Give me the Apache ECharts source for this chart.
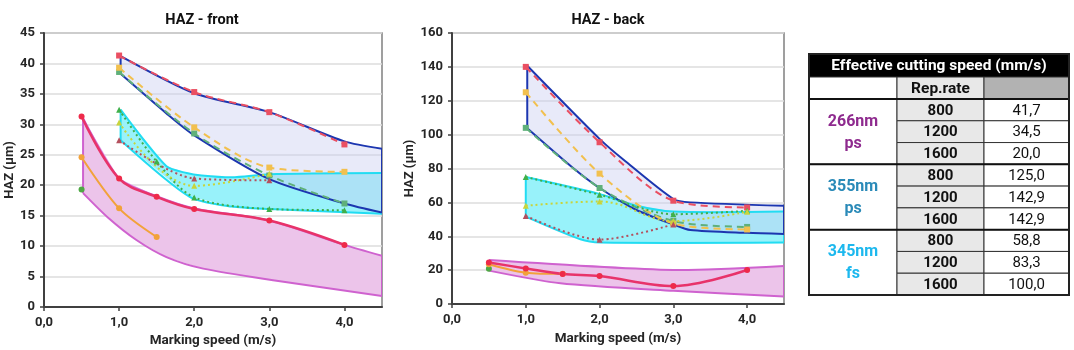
<!DOCTYPE html>
<html><head><meta charset="utf-8">
<script src="https://cdn.jsdelivr.net/npm/echarts@6/dist/echarts.min.js"></script>
<style>html,body{margin:0;padding:0;background:#fff}#c{width:1074px;height:350px}</style>
</head><body><div id="c"></div>
<script>
// ---------- HAZ - front ----------
const frontRedCircles = [[0.5,31.3],[1,21.1],[1.5,18.1],[2,16.1],[3,14.2],[4,10.2]];
const frontOrangeCircles = [[0.5,24.6],[1,16.2],[1.5,11.5]];
const frontGreenCircles = [[0.5,19.3]];
const frontRedSquares = [[1,41.3],[2,35.3],[3,32.0],[4,26.7]];
const frontOrangeSquares = [[1,39.3],[2,29.5],[3,22.9],[4,22.2]];
const frontGreenSquares = [[1,38.6],[2,28.5],[3,21.6],[4,17.0]];
const frontGreenTriangles = [[1,32.4],[1.5,23.9],[2,18.0],[3,16.1],[4,15.9]];
const frontYellowTriangles = [[1,30.3],[2,19.9],[3,21.9]];
const frontBrownTriangles = [[1,27.4],[2,21.1],[3,20.8]];
const frontMagentaUpper = [[0.52,31.0],[1,21.1],[1.5,18.2],[2,16.2],[3,14.2],[4,10.2],[4.5,8.4]];
const frontMagentaLower = [[0.52,18.7],[0.85,14.7],[1.23,11.0],[1.63,8.2],[2.12,6.3],[3.05,4.4],[4.5,1.8]];
const frontBlueUpper = [[1.02,41.2],[2,35.1],[3,32.0],[4,27.2],[4.5,26.0]];
const frontBlueLower = [[1.02,38.3],[1.63,31.8],[2,28.2],[3,21.0],[4,17.0],[4.5,15.5]];
const frontCyanUpper = [[1.02,32.4],[1.63,23.1],[1.9,22.0],[2.1,21.6],[2.5,21.3],[3,21.8],[4.5,22.0]];
const frontCyanLower = [[1.02,27.4],[1.94,18.1],[2.5,16.5],[3,16.1],[4.5,15.3]];

// ---------- HAZ - back ----------
const backRedCircles = [[0.5,24.5],[1,21.0],[1.5,17.7],[2,16.5],[3,10.6],[4,20.1]];
const backOrangeCircles = [[0.5,23.5],[1,18.5],[1.5,17.8]];
const backGreenCircles = [[0.5,20.8]];
const backRedSquares = [[1,140],[2,95.5],[3,61],[4,57]];
const backOrangeSquares = [[1,125],[2,77],[3,47.5],[4,44]];
const backGreenSquares = [[1,104],[2,68.5],[3,49],[4,45.5]];
const backGreenTriangles = [[1,75],[2,64.5],[3,53],[4,55]];
const backYellowTriangles = [[1,58],[2,60.5],[3,49],[4,54.5]];
const backBrownTriangles = [[1,52],[2,38],[3,47]];
const backMagentaUpper = [[0.5,26],[3,20.1],[4.5,22.5]];
const backMagentaLower = [[0.5,19.7],[1.47,12.2],[3,7.8],[4.5,4.5]];
const backBlueUpper = [[1.02,140.7],[2,97.5],[2.33,85],[3,62],[3.23,60],[4.5,58]];
const backBlueLower = [[1.02,103.8],[1.65,80],[2,68.5],[2.5,55.5],[3,47],[3.23,43.7],[4,42],[4.5,41.4]];
const backCyanUpper = [[1.0,75],[1.74,67.8],[2,65],[2.46,58.5],[3,54.6],[4.5,54.6]];
const backCyanLower = [[1.0,51.6],[1.74,38.2],[2.01,36.3],[4.5,36.3]];

// ---------- table ----------
const tableTitle = 'Effective cutting speed (mm/s)';
const tableSubHeader = 'Rep.rate';
const laserGroups = ['266nm\nps', '355nm\nps', '345nm\nfs'];
const repRates = ['800', '1200', '1600'];
const cuttingSpeeds = ['41,7','34,5','20,0','125,0','142,9','142,9','58,8','83,3','100,0'];

const chartTitles = ['HAZ - front', 'HAZ - back'];
const xName = 'Marking speed (m/s)';
const yName = 'HAZ (µm)';

// ---------- styling ----------
const FONT = 'Roboto';
const C = {
  red: '#ee2a4a', orange: '#f2a23a', green: '#4ea844',
  redSq: '#ea4f62', orangeSq: '#f2c04e', greenSq: '#5fb07a',
  greenTri: '#3fb04a', yellowTri: '#c8d43c', brownTri: '#b4505e',
  magFill: '#ecc4ea', magLine: '#cf62cf',
  blueFill: 'rgba(200,206,240,0.42)', blueLine: '#1c36b0',
  cyanFill: '#98f2fa', cyanLine: '#22dcf2'
};
const groupColors = ['#8e2a8e', '#2a8ab8', '#1cb8ee'];

function lineS(idx, data, color, symbol, size, type, width, smooth, lineColor) {
  return {
    type: 'line', xAxisIndex: idx, yAxisIndex: idx, data: data, z: 5,
    symbol: symbol, symbolSize: size, smooth: smooth, silent: true,
    itemStyle: { color: color },
    lineStyle: { color: lineColor || color, width: width, type: type }
  };
}
function bandFill(idx, upper, lower, fill, z) {
  return {
    type: 'custom', xAxisIndex: idx, yAxisIndex: idx, z: z, silent: true, clip: true,
    data: [[0, 0]],
    renderItem: function (params, api) {
      const up = upper.map(p => api.coord(p));
      const lo = lower.map(p => api.coord(p));
      return { type: 'polygon', shape: { points: up.concat(lo.slice().reverse()), smooth: 0 },
        style: { fill: fill, stroke: null } };
    }
  };
}
function bandBorder(idx, upper, lower, stroke, z) {
  return {
    type: 'custom', xAxisIndex: idx, yAxisIndex: idx, z: z, silent: true, clip: true,
    data: [[0, 0]],
    renderItem: function (params, api) {
      const up = upper.map(p => api.coord(p));
      const lo = lower.map(p => api.coord(p));
      const st = { stroke: stroke, lineWidth: 2, fill: null };
      return { type: 'group', children: [
        { type: 'polyline', shape: { points: up, smooth: 0.25 }, style: st },
        { type: 'polyline', shape: { points: lo, smooth: 0.25 }, style: st },
        { type: 'polyline', shape: { points: [up[0], lo[0]] }, style: st },
        { type: 'polyline', shape: { points: [up[up.length-1], lo[lo.length-1]] }, style: st }
      ]};
    }
  };
}

function xAxis(idx, gap) {
  return {
    type: 'value', gridIndex: idx, min: 0, max: 4.5, interval: 1,
    name: xName, nameLocation: 'middle', nameGap: gap,
    nameTextStyle: { fontFamily: FONT, fontWeight: 'bold', fontSize: 13.5, color: '#262626' },
    axisLine: { show: true, onZero: false, lineStyle: { color: '#404040', width: 2 } },
    axisTick: { show: true, length: 4, lineStyle: { color: '#404040', width: 1.5 } },
    axisLabel: { fontFamily: FONT, fontWeight: 'bold', fontSize: 13, color: '#262626', margin: 9,
      showMaxLabel: false, formatter: v => v.toFixed(1).replace('.', ',') },
    splitLine: { show: false }
  };
}
function yAxis(idx, max, interval) {
  return {
    type: 'value', gridIndex: idx, min: 0, max: max, interval: interval,
    name: yName, nameLocation: 'middle', nameGap: idx === 0 ? 26 : 28, nameRotate: 90,
    nameTextStyle: { fontFamily: FONT, fontWeight: 'bold', fontSize: 13, color: '#262626' },
    axisLine: { show: true, lineStyle: { color: '#404040', width: 2 } },
    axisTick: { show: true, length: 4, lineStyle: { color: '#404040', width: 1.5 } },
    axisLabel: { fontFamily: FONT, fontWeight: 'bold', fontSize: 13, color: '#262626', margin: 9 },
    splitLine: { show: true, lineStyle: { color: '#dcdcdc', width: 1.5 } }
  };
}

// ---------- table graphics ----------
const colX = [809, 897, 984, 1069];
const headTop = 54, headBot = 77, subBot = 99, rowH = (295 - 99) / 9;
const g = [];
const txt = (x, y, text, opt) => g.push({ type: 'text', x: x, y: y, z: 20,
  style: Object.assign({ text: text, fontFamily: FONT, fontSize: 15, fill: '#111', align: 'center', verticalAlign: 'middle' }, opt) });
const rect = (x, y, w, h, fill, stroke, lw) => g.push({ type: 'rect', z: 10,
  shape: { x: x, y: y, width: w, height: h }, style: { fill: fill, stroke: stroke || '#333', lineWidth: lw || 1 } });
rect(colX[0], headTop, colX[3] - colX[0], headBot - headTop, '#000', '#000', 1);
txt((colX[0] + colX[3]) / 2, (headTop + headBot) / 2 + 1, tableTitle, { fill: '#fff', fontWeight: 'bold', fontSize: 15.5 });
rect(colX[0], headBot, colX[1] - colX[0], subBot - headBot, '#fff');
rect(colX[1], headBot, colX[2] - colX[1], subBot - headBot, '#e8e8e8');
rect(colX[2], headBot, colX[3] - colX[2], subBot - headBot, '#b2b2b2');
txt((colX[1] + colX[2]) / 2, (headBot + subBot) / 2 + 1, tableSubHeader, { fontWeight: 'bold', fontSize: 15.5 });
laserGroups.forEach((lab, gi) => {
  const gy = subBot + gi * 3 * rowH;
  rect(colX[0], gy, colX[1] - colX[0], 3 * rowH, '#fff');
  txt((colX[0] + colX[1]) / 2, gy + 1.5 * rowH + 1, lab, { fill: groupColors[gi], fontWeight: 'bold', fontSize: 16, lineHeight: 22 });
  repRates.forEach((r, ri) => {
    const y = gy + ri * rowH;
    rect(colX[1], y, colX[2] - colX[1], rowH, '#e8e8e8');
    rect(colX[2], y, colX[3] - colX[2], rowH, '#fff');
    txt((colX[1] + colX[2]) / 2, y + rowH / 2 + 1, r, { fontWeight: 'bold' });
    txt((colX[2] + colX[3]) / 2, y + rowH / 2 + 1, cuttingSpeeds[gi * 3 + ri], {});
  });
  g.push({ type: 'line', z: 15, shape: { x1: colX[0], y1: gy, x2: colX[3], y2: gy }, style: { stroke: '#111', lineWidth: 2 } });
});
g.push({ type: 'rect', z: 16, shape: { x: colX[0], y: headTop, width: colX[3] - colX[0], height: 295 - headTop },
  style: { fill: null, stroke: '#222', lineWidth: 2 } });

const series = [];
[[0, frontMagentaUpper, frontMagentaLower, frontCyanUpper, frontCyanLower, frontBlueUpper, frontBlueLower],
 [1, backMagentaUpper, backMagentaLower, backCyanUpper, backCyanLower, backBlueUpper, backBlueLower]].forEach(b => {
  series.push(bandFill(b[0], b[1], b[2], C.magFill, 1));
  series.push(bandFill(b[0], b[3], b[4], C.cyanFill, 1));
  series.push(bandFill(b[0], b[5], b[6], C.blueFill, 1));
  series.push(bandBorder(b[0], b[1], b[2], C.magLine, 2));
  series.push(bandBorder(b[0], b[3], b[4], C.cyanLine, 2));
  series.push(bandBorder(b[0], b[5], b[6], C.blueLine, 2));
});
[[0, frontRedCircles, frontOrangeCircles, frontGreenCircles, frontRedSquares, frontOrangeSquares, frontGreenSquares, frontGreenTriangles, frontYellowTriangles, frontBrownTriangles],
 [1, backRedCircles, backOrangeCircles, backGreenCircles, backRedSquares, backOrangeSquares, backGreenSquares, backGreenTriangles, backYellowTriangles, backBrownTriangles]].forEach(s => {
  const i = s[0];
  series.push(lineS(i, s[6], C.greenSq, 'rect', 6, [7, 5], 2, 0.3));
  series.push(lineS(i, s[5], C.orangeSq, 'rect', 6, [7, 5], 2, 0.3));
  series.push(lineS(i, s[4], C.redSq, 'rect', 6, [7, 5], 2, 0.3));
  series.push(lineS(i, s[7], C.greenTri, 'triangle', 6, [2, 3], 2, 0.3));
  series.push(lineS(i, s[8], C.yellowTri, 'triangle', 6, [2, 3], 2, 0.4));
  series.push(lineS(i, s[9], C.brownTri, 'triangle', 6, [2, 3], 2, 0.3));
  series.push(lineS(i, s[3], C.green, 'circle', 6, 'solid', 2, 0.3));
  series.push(lineS(i, s[2], C.orange, 'circle', 6, 'solid', 2, 0.3));
  series.push(lineS(i, s[1], C.red, 'circle', 6, 'solid', 2.5, 0.35, '#e8336a'));
});

const chart = echarts.init(document.getElementById('c'), null, { renderer: 'canvas' });
chart.setOption({
  animation: false,
  backgroundColor: '#fff',
  title: [
    { text: chartTitles[0], left: 197, top: 8, textAlign: 'center', textStyle: { fontFamily: FONT, fontWeight: 'bold', fontSize: 14.5, color: '#111' } },
    { text: chartTitles[1], left: 603, top: 8, textAlign: 'center', textStyle: { fontFamily: FONT, fontWeight: 'bold', fontSize: 14.5, color: '#111' } }
  ],
  grid: [
    { left: 44, top: 33, width: 338, height: 274, show: true, borderColor: '#808080', borderWidth: 1.5, backgroundColor: 'transparent', containLabel: false, outerBoundsMode: 'none' },
    { left: 452, top: 33, width: 332, height: 271, show: true, borderColor: '#808080', borderWidth: 1.5, backgroundColor: 'transparent', containLabel: false, outerBoundsMode: 'none' }
  ],
  xAxis: [xAxis(0, 25), xAxis(1, 28)],
  yAxis: [yAxis(0, 45, 5), yAxis(1, 160, 20)],
  series: series,
  graphic: g
});
</script></body></html>
